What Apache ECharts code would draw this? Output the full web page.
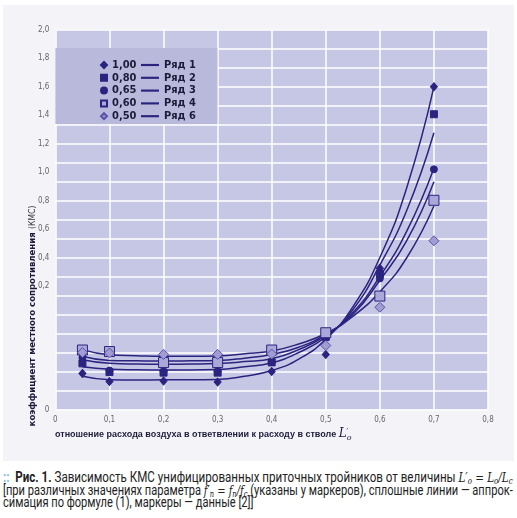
<!DOCTYPE html>
<html>
<head>
<meta charset="utf-8">
<script src="https://cdn.jsdelivr.net/npm/echarts@6/dist/echarts.min.js"></script>
<style>
  body { margin: 0; width: 517px; height: 518px; background: #fff; position: relative; overflow: hidden; }
  #panel { position: absolute; left: 3px; top: 5px; width: 511px; height: 456px; background: #f4f4f8; }
  #chart { position: absolute; left: 0; top: 0; width: 517px; height: 465px; }
  #xtitle { position: absolute; left: 55px; top: 426px; font: bold 9px "Liberation Sans", sans-serif; color: #1d1b3a; white-space: nowrap; }
  #xtitle i { font: italic 12px "DejaVu Serif", serif; }
  .cap { position: absolute; left: 3px; height: 13px; line-height: 13px; font: 14px Roboto, sans-serif; color: #222; white-space: nowrap; }
  .cap span.in { display: inline-block; transform-origin: 0 50%; line-height: 13px; }
  .m { font-family: "DejaVu Serif", serif; font-style: italic; font-size: 12.5px; }
  .m sub { font-size: 8.5px; vertical-align: -2px; line-height: 0; }
</style>
</head>
<body>
<div id="panel"></div>
<div id="chart"></div>
<div id="xtitle">отношение расхода воздуха в ответвлении к расходу в стволе <i>L</i><sub style="font:italic 8px 'DejaVu Serif',serif">o</sub><sup style="font:8px 'DejaVu Serif',serif;margin-left:-5px">′</sup></div>
<div class="cap" style="top:469px"><span class="in" id="c1"><span style="color:#7fbfdc;font-weight:bold">::</span>&nbsp;&nbsp;<b>Рис. 1.</b> Зависимость КМС унифицированных приточных тройников от величины <span class="m">L′<sub>o</sub> = L<sub>o</sub>/L<sub>c</sub></span></span></div>
<div class="cap" style="top:481.5px"><span class="in" id="c2">[при различных значениях параметра <span class="m">f′<sub>n</sub> = f<sub>n</sub>/f<sub>c</sub></span> (указаны у маркеров), сплошные линии — аппрок-</span></div>
<div class="cap" style="top:494px"><span class="in" id="c3">симация по формуле (1), маркеры — данные [2]]</span></div>
<script>
// points measured (marker data)
const xMarkers = [0.05, 0.1, 0.2, 0.3, 0.4, 0.5, 0.6, 0.7];
const m100 = [0.19, 0.147, 0.15, 0.145, 0.2, 0.29, 0.743, 1.699];
const m080 = [0.243, 0.197, 0.194, 0.194, 0.248, 0.382, 0.713, 1.554];
const m065 = [0.273, 0.205, 0.2, 0.2, 0.25, 0.38, 0.69, 1.264];
const m060 = [0.313, 0.305, 0.247, 0.247, 0.313, 0.404, 0.597, 1.101];
const m050 = [0.3, 0.297, 0.29, 0.29, 0.292, 0.337, 0.538, 0.888];

// approximation curves
const xCurve = [0.05, 0.1, 0.15, 0.2, 0.25, 0.3, 0.35, 0.4, 0.45, 0.5, 0.55, 0.6, 0.65, 0.7];
const row1 = [0.175, 0.157, 0.155, 0.156, 0.156, 0.158, 0.175, 0.205, 0.265, 0.37, 0.54, 0.80, 1.17, 1.699];
const row2 = [0.225, 0.212, 0.209, 0.208, 0.208, 0.21, 0.225, 0.246, 0.30, 0.382, 0.525, 0.76, 1.05, 1.457];
const row3 = [0.262, 0.243, 0.239, 0.238, 0.239, 0.242, 0.252, 0.267, 0.315, 0.39, 0.51, 0.70, 0.94, 1.27];
const row4 = [0.28, 0.258, 0.256, 0.255, 0.256, 0.258, 0.27, 0.29, 0.328, 0.395, 0.50, 0.68, 0.89, 1.199];
const row6 = [0.315, 0.288, 0.283, 0.28, 0.28, 0.282, 0.293, 0.308, 0.345, 0.40, 0.49, 0.62, 0.80, 1.071];

const yTickLabels = ['2,0', '1,8', '1,6', '1,4', '1,2', '1,0', '0,8', '0,6', '0,4', '0,2'];

const NAVY = '#2a2480';
const labelFont = '"DejaVu Sans Condensed", "Liberation Sans Narrow", sans-serif';

function pairs(xs, ys) {
  return xs.map((x, i) => [x, ys[i]]);
}
function comma(v) {
  return v === 0 ? '0' : String(+v.toFixed(1)).replace('.', ',');
}

const chart = echarts.init(document.getElementById('chart'), null, { renderer: 'canvas' });

const markerDefs = [
  { name: '1,00', data: m100, symbol: 'diamond', size: [7, 8], fill: NAVY, border: NAVY },
  { name: '0,80', data: m080, symbol: 'rect', size: 7, fill: NAVY, border: NAVY },
  { name: '0,65', data: m065, symbol: 'circle', size: 7, fill: NAVY, border: NAVY },
  { name: '0,60', data: m060, symbol: 'rect', size: 10, fill: '#aaa8d9', border: NAVY },
  { name: '0,50', data: m050, symbol: 'diamond', size: 10, fill: '#a19dd3', border: '#5a52a8' }
];
const curveDefs = [
  { name: 'Ряд 1', data: row1 },
  { name: 'Ряд 2', data: row2 },
  { name: 'Ряд 3', data: row3 },
  { name: 'Ряд 4', data: row4 },
  { name: 'Ряд 6', data: row6 }
];

const series = [];
curveDefs.forEach(c => {
  series.push({
    name: c.name, type: 'line', data: pairs(xCurve, c.data),
    smooth: 0.5, symbol: 'none', showSymbol: false,
    lineStyle: { color: NAVY, width: 1.5 }, itemStyle: { color: NAVY },
    z: 2
  });
});
markerDefs.forEach(m => {
  series.push({
    name: m.name, type: 'scatter', data: pairs(xMarkers, m.data),
    symbol: m.symbol, symbolSize: m.size,
    itemStyle: { color: m.fill, borderColor: m.border, borderWidth: 1, opacity: 1 },
    z: 3
  });
});

const lineIcon = 'path://M0,0 L20,0 L20,2.4 L0,2.4 Z';

chart.setOption({
  animation: false,
  backgroundColor: 'transparent',
  grid: {
    left: 55.4, top: 29.5, width: 432.6, height: 380,
    show: true, backgroundColor: '#c6c7e4', borderWidth: 0
  },
  xAxis: {
    type: 'value', min: 0, max: 0.8, interval: 0.1,
    axisLine: { show: false }, axisTick: { show: false },
    splitLine: { show: true, lineStyle: { color: '#ffffff', width: 1.5 } },
    axisLabel: {
      margin: 6, color: '#666', fontSize: 8, fontFamily: labelFont,
      formatter: v => comma(v)
    }
  },
  yAxis: [
    {
      type: 'value', min: 0, max: 2, interval: 0.1,
      axisLine: { show: false }, axisTick: { show: false },
      splitLine: { show: true, lineStyle: { color: '#ffffff', width: 1.5 } },
      axisLabel: {
        margin: 6, color: '#666', fontSize: 8, fontFamily: labelFont,
        formatter: v => (v === 0 ? '0' : '')
      }
    },
    {
      // label-only axis: the printed scale does not follow the grid rows
      type: 'value', inverse: true, min: -2, max: 2 / 3, interval: 0.2,
      position: 'left',
      axisLine: { show: false }, axisTick: { show: false }, splitLine: { show: false },
      axisLabel: {
        margin: 6, color: '#666', fontSize: 8, fontFamily: labelFont,
        showMaxLabel: false,
        formatter: v => {
          const i = Math.round((v + 2) / 0.2);
          return (v < -0.1 && i >= 0 && i < yTickLabels.length) ? yTickLabels[i] : '';
        }
      }
    }
  ],
  legend: [
    {
      data: markerDefs.map(m => m.name),
      orient: 'vertical', left: 95, top: 54, itemWidth: 6, itemHeight: 6, itemGap: 0.8,
      textStyle: { fontFamily: labelFont, fontWeight: 'bold', fontSize: 11, lineHeight: 12, color: '#1d1b3a' },
      selectedMode: false
    },
    {
      data: curveDefs.map(c => ({ name: c.name, icon: lineIcon })),
      orient: 'vertical', left: 136, top: 54, itemWidth: 18, itemHeight: 2.4, itemGap: 0.8,
      textStyle: { fontFamily: labelFont, fontWeight: 'bold', fontSize: 11, lineHeight: 12, color: '#1d1b3a' },
      selectedMode: false
    }
  ],
  graphic: [
    {
      type: 'rect', z: 1,
      shape: { x: 55.4, y: 48, width: 162, height: 76 },
      style: { fill: '#b9badb' }
    },
    {
      type: 'text', x: 33, y: 316, rotation: Math.PI / 2,
      style: {
        text: '{b|коэффициент местного сопротивления} {n|(КМС)}',
        align: 'center', verticalAlign: 'middle',
        rich: {
          b: { fontFamily: labelFont, fontWeight: 'bold', fontSize: 9.5, fill: '#1d1b3a' },
          n: { fontFamily: labelFont, fontSize: 8.5, fill: '#333' }
        }
      }
    }
  ],
  series: series
});

// squeeze caption lines to the column width, like the printed justified text
function fitCaption() {
  const c1 = document.getElementById('c1');
  const c2 = document.getElementById('c2');
  const c3 = document.getElementById('c3');
  const s1 = 510 / c1.offsetWidth;
  const s2 = 510 / c2.offsetWidth;
  c1.style.transform = 'scaleX(' + s1 + ')';
  c2.style.transform = 'scaleX(' + s2 + ')';
  c3.style.transform = 'scaleX(' + s2 + ')';
}
if (document.fonts && document.fonts.ready) {
  document.fonts.ready.then(fitCaption);
} else {
  fitCaption();
}
</script>
</body>
</html>
